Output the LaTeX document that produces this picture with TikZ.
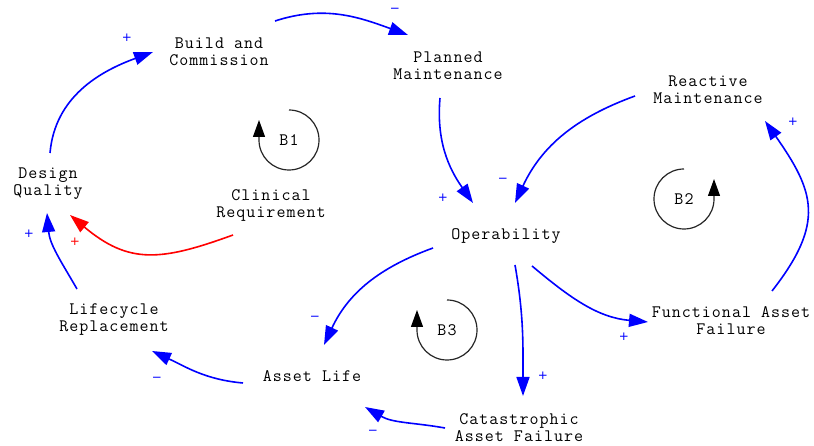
\documentclass[tikz,border=0pt]{standalone}
\usepackage{fontspec}
\setmonofont{Latin Modern Mono}[LetterSpace=5.8]
\newfontfamily\signfont{DejaVu Sans}
\usetikzlibrary{arrows.meta,calc}
\begin{document}
\begin{tikzpicture}[x=1bp,y=1bp,
  var/.style={font=\ttfamily\fontsize{17.5bp}{17bp}\selectfont, align=center, inner sep=0pt},
  link/.style={draw=blue, line width=1.6bp, -{Triangle[length=19bp,width=13bp]}},
  redlink/.style={link, draw=red, -{Triangle[length=19bp,width=13bp,fill=red]}},
  sign/.style={text=blue, font=\signfont\fontsize{12bp}{12bp}\selectfont, inner sep=0pt},
  redsign/.style={sign, text=red},
  loopmark/.style={draw=black!85, line width=1.2bp, -{Triangle[length=17bp,width=12bp,color=black,fill=black]}},
  looplabel/.style={font=\ttfamily\fontsize{17.5bp}{17bp}\selectfont, inner sep=0pt}]
\useasboundingbox (0,0) rectangle (814,446);

% variables
\node[var] (bc)  at (219,394) {Build and\\Commission};
\node[var] (pm)  at (448,380) {Planned\\Maintenance};
\node[var] (rm)  at (708,356) {Reactive\\Maintenance};
\node[var] (dq)  at (48,262)  {Design\\Quality};
\node[var] (cr)  at (271,241) {Clinical\\Requirement};
\node[var] (op)  at (506,210) {Operability};
\node[var] (lr)  at (114,126) {Lifecycle\\Replacement};
\node[var] (al)  at (312,70)  {Asset Life};
\node[var] (caf) at (519,18)  {Catastrophic\\Asset Failure};
\node[var] (faf) at (731,125) {Functional Asset\\Failure};

% causal links
\draw[link] ($(dq)+(2,31)$)    to[out=85,in=200]  ($(bc)+(-66,0)$);
\draw[link] ($(bc)+(56,31)$)   to[out=18,in=160]  ($(pm)+(-40,31)$);
\draw[link] ($(pm)+(-8,-32)$)  to[out=-95,in=125] ($(op)+(-33,33)$);
\draw[link] ($(rm)+(-73,-6)$)  to[out=200,in=65]  ($(op)+(9,33)$);
\draw[link] ($(faf)+(41,30)$)  to[out=52,in=-55,looseness=1.3] ($(rm)+(57,-31)$);
\draw[link] ($(op)+(26,-30)$)  to[out=-40,in=175] ($(faf)+(-83,-1)$);
\draw[link] ($(op)+(9,-29)$)   to[out=-80,in=90]  ($(caf)+(4,32)$);
\draw[link] ($(op)+(-73,-12)$) to[out=200,in=65]  ($(al)+(12,31)$);
\draw[link] ($(caf)+(-74,0)$)  to[out=170,in=-30] ($(al)+(53,-31)$);
\draw[link] ($(al)+(-69,-7)$)  to[out=175,in=-25] ($(lr)+(38,-31)$);
\draw[link] ($(lr)+(-37,31)$)  to[out=120,in=-85] ($(dq)+(-1,-29)$);
\draw[redlink] ($(cr)+(-38,-30)$) to[out=200,in=-40,looseness=1.2] ($(dq)+(22,-31)$);

% polarities
\node[sign] (s1)  at (127,408) {+};
\node[sign] (s2)  at (395,436) {−};
\node[sign] (s3)  at (443,248) {+};
\node[sign] (s4)  at (503,266) {−};
\node[sign] (s5)  at (793,324) {+};
\node[sign] (s6)  at (624,109) {+};
\node[sign] (s7)  at (543,70)  {+};
\node[sign] (s8)  at (315,128) {−};
\node[sign] (s9)  at (373,14)  {−};
\node[sign] (s10) at (157,67)  {−};
\node[sign] (s11) at (29,212)  {+};
\node[redsign] (s12) at (75,204) {+};

% loop identifiers
\node[looplabel] (b1) at (289,306) {B1};
\draw[loopmark] ($(b1)+(0,30)$) arc[start angle=90,end angle=-180,radius=30] -- ++(0,20);
\node[looplabel] (b2) at (684,247) {B2};
\draw[loopmark] ($(b2)+(0,30)$) arc[start angle=90,end angle=360,radius=30] -- ++(0,20);
\node[looplabel] (b3) at (447,116) {B3};
\draw[loopmark] ($(b3)+(0,30)$) arc[start angle=90,end angle=-180,radius=30] -- ++(0,20);
\end{tikzpicture}
\end{document}
